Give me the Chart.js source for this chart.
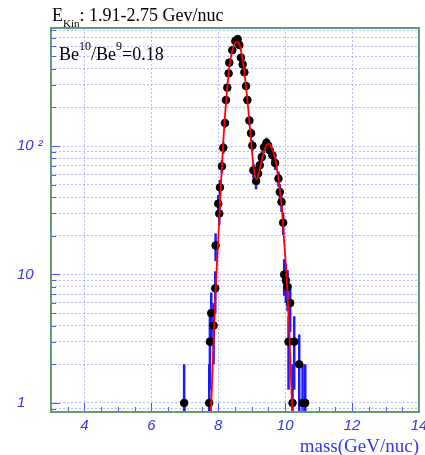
<!DOCTYPE html>
<html>
<head>
<meta charset="utf-8">
<script src="https://cdn.jsdelivr.net/npm/chart.js@4.4.0/dist/chart.umd.min.js"></script>
<style>
  html, body { margin: 0; padding: 0; background: #fff; }
</style>
</head>
<body>
<canvas id="massChart" width="425" height="455"></canvas>
<script>
// measured points (mass bin centre, counts)
const massBins = [6.98, 7.73, 7.75, 7.79, 7.86, 7.91, 7.92, 8.00, 8.03, 8.05, 8.11, 8.15, 8.20, 8.23,
  8.27, 8.31, 8.33, 8.42, 8.51, 8.58, 8.63, 8.68, 8.73, 8.78, 8.83, 8.87, 8.93, 8.98, 9.02, 9.05,
  9.13, 9.19, 9.24, 9.30, 9.37, 9.44, 9.49, 9.54, 9.62, 9.70, 9.80, 9.84, 9.89, 9.94, 9.97, 10.02,
  10.07, 10.10, 10.15, 10.22, 10.27, 10.42, 10.52, 10.60];
const counts = [1, 1, 3.0, 5.0, 4.0, 7.8, 16.8, 35.6, 29.8, 47.6, 69.6, 97, 151, 228,
  285, 368, 446, 558, 656, 680, 611, 488, 432, 375, 293, 228, 158, 126, 101, 64.7,
  53.4, 61, 70.8, 82, 98, 106, 101, 92.6, 84.7, 73.8, 55.8, 43.9, 36.7, 25.3, 10, 9.0,
  8.0, 3.0, 6.0, 1, 3.0, 2.0, 1, 1];

// red fit curve
const fitMass = [7.78, 7.85, 7.92, 8.00, 8.08, 8.16, 8.25, 8.35, 8.45, 8.55, 8.62, 8.70, 8.80, 8.90,
  9.00, 9.08, 9.15, 9.25, 9.35, 9.45, 9.52, 9.60, 9.70, 9.80, 9.90, 9.97, 10.05, 10.12, 10.21];
const fitCounts = [0.85, 2.5, 7.5, 19, 50, 120, 250, 450, 590, 650, 630, 520, 340, 190,
  95, 62, 55, 68, 88, 102, 104, 96, 80, 55, 33, 18, 9, 3.8, 0.85];

const xTickValues = [4, 6, 8, 10, 12, 14];
const yGridValues = [0.9, 1, 2, 3, 4, 5, 6, 7, 8, 9, 10, 20, 30, 40, 50, 60, 70, 80, 90,
  100, 200, 300, 400, 500, 600, 700, 800];
const yLabelValues = [1, 10, 100];
const yLabelTexts = ['1', '10', '10 ²'];

const tickBlue = '#3535f0';
const gridBlue = 'rgba(120,120,255,0.5)';

const errorBars = {
  id: 'errorBars',
  beforeDatasetsDraw(chart) {
    const {ctx, chartArea, scales} = chart;
    ctx.save();
    ctx.beginPath();
    ctx.rect(chartArea.left, chartArea.top, chartArea.width, chartArea.height);
    ctx.clip();
    ctx.strokeStyle = '#1a1aff';
    ctx.lineWidth = 2.5;
    massBins.forEach((m, i) => {
      const c = counts[i];
      const e = Math.sqrt(c);
      const px = scales.x.getPixelForValue(m);
      const lo = c - e > 0 ? scales.y.getPixelForValue(c - e) : chartArea.bottom;
      const hi = scales.y.getPixelForValue(c + e);
      ctx.beginPath();
      ctx.moveTo(px, lo);
      ctx.lineTo(px, hi);
      ctx.stroke();
    });
    ctx.restore();
  }
};

const frameAndText = {
  id: 'frameAndText',
  afterDraw(chart) {
    const {ctx, chartArea, scales} = chart;
    ctx.save();
    // inner tick marks
    ctx.strokeStyle = '#5050ff';
    ctx.lineWidth = 1;
    yGridValues.forEach(v => {
      const py = Math.round(scales.y.getPixelForValue(v)) + 0.5;
      const len = yLabelValues.includes(v) ? 9 : 5;
      ctx.beginPath();
      ctx.moveTo(chartArea.left, py);
      ctx.lineTo(chartArea.left + len, py);
      ctx.stroke();
    });
    for (let v = 3.5; v < 14; v += 0.5) {
      const px = Math.round(scales.x.getPixelForValue(v)) + 0.5;
      const len = xTickValues.includes(v) ? 9 : 5;
      ctx.beginPath();
      ctx.moveTo(px, chartArea.bottom);
      ctx.lineTo(px, chartArea.bottom - len);
      ctx.stroke();
    }
    // frame
    ctx.strokeStyle = '#639c72';
    ctx.lineWidth = 2;
    ctx.strokeRect(chartArea.left, chartArea.top, chartArea.width, chartArea.height);

    // title E_Kin
    ctx.fillStyle = '#000';
    ctx.textBaseline = 'alphabetic';
    ctx.font = '18px "Liberation Serif"';
    let x = chartArea.left + 1;
    ctx.fillText('E', x, 21);
    x += ctx.measureText('E').width;
    ctx.font = '11px "Liberation Serif"';
    ctx.fillText('Kin', x, 27);
    x += ctx.measureText('Kin').width;
    ctx.font = '18px "Liberation Serif"';
    ctx.fillText(': 1.91-2.75 Gev/nuc', x, 21);

    // ratio label
    const parts = [['Be', 0], ['10', 1], ['/Be', 0], ['9', 1], ['=0.18', 0]];
    x = chartArea.left + 8;
    parts.forEach(([t, sup]) => {
      ctx.font = sup ? '12px "Liberation Serif"' : '18px "Liberation Serif"';
      ctx.fillText(t, x, sup ? 50 : 60);
      x += ctx.measureText(t).width;
    });
    ctx.restore();
  }
};

new Chart(document.getElementById('massChart'), {
  type: 'scatter',
  data: {
    datasets: [{
      type: 'line',
      data: fitMass.map((m, i) => ({x: m, y: fitCounts[i]})),
      borderColor: '#ff0000',
      borderWidth: 1.8,
      pointRadius: 0,
      cubicInterpolationMode: 'monotone',
      fill: false,
      order: 0
    }, {
      data: massBins.map((m, i) => ({x: m, y: counts[i]})),
      backgroundColor: '#000',
      borderColor: '#000',
      pointRadius: 3.8,
      order: 1
    }]
  },
  options: {
    responsive: false,
    animation: false,
    layout: { padding: { top: 28, right: 6, left: 17, bottom: 0 } },
    plugins: { legend: { display: false }, tooltip: { enabled: false } },
    scales: {
      x: {
        type: 'linear',
        min: 3,
        max: 14,
        afterBuildTicks: s => { s.ticks = xTickValues.map(v => ({value: v})); },
        afterFit: s => { s.height = 43; s.paddingLeft = 0; s.paddingRight = 0; },
        grid: { color: ctx => ctx.tick && ctx.tick.value === 14 ? 'rgba(0,0,0,0)' : gridBlue, drawTicks: false },
        border: { display: false, dash: [2, 2] },
        ticks: {
          color: tickBlue,
          font: { family: 'Liberation Sans', style: 'italic', size: 15 },
          padding: 5,
          maxRotation: 0,
          autoSkip: false
        },
        title: {
          display: true,
          text: 'mass(GeV/nuc)',
          align: 'end',
          color: tickBlue,
          font: { family: 'Liberation Serif', size: 19, lineHeight: 0.84 },
          padding: 0
        }
      },
      y: {
        type: 'logarithmic',
        min: 0.85,
        max: 830,
        afterBuildTicks: s => { s.ticks = yGridValues.map(v => ({value: v})); },
        afterFit: s => { s.width = 34; s.paddingTop = 0; s.paddingBottom = 0; },
        grid: { color: gridBlue, drawTicks: false },
        border: { display: false, dash: [2, 2] },
        ticks: {
          color: tickBlue,
          font: { family: 'Liberation Sans', style: 'italic', size: 15 },
          crossAlign: 'far',
          autoSkip: false,
          callback: v => {
            const i = yLabelValues.indexOf(v);
            return i >= 0 ? yLabelTexts[i] : '';
          }
        }
      }
    }
  },
  plugins: [errorBars, frameAndText]
});
</script>
</body>
</html>
